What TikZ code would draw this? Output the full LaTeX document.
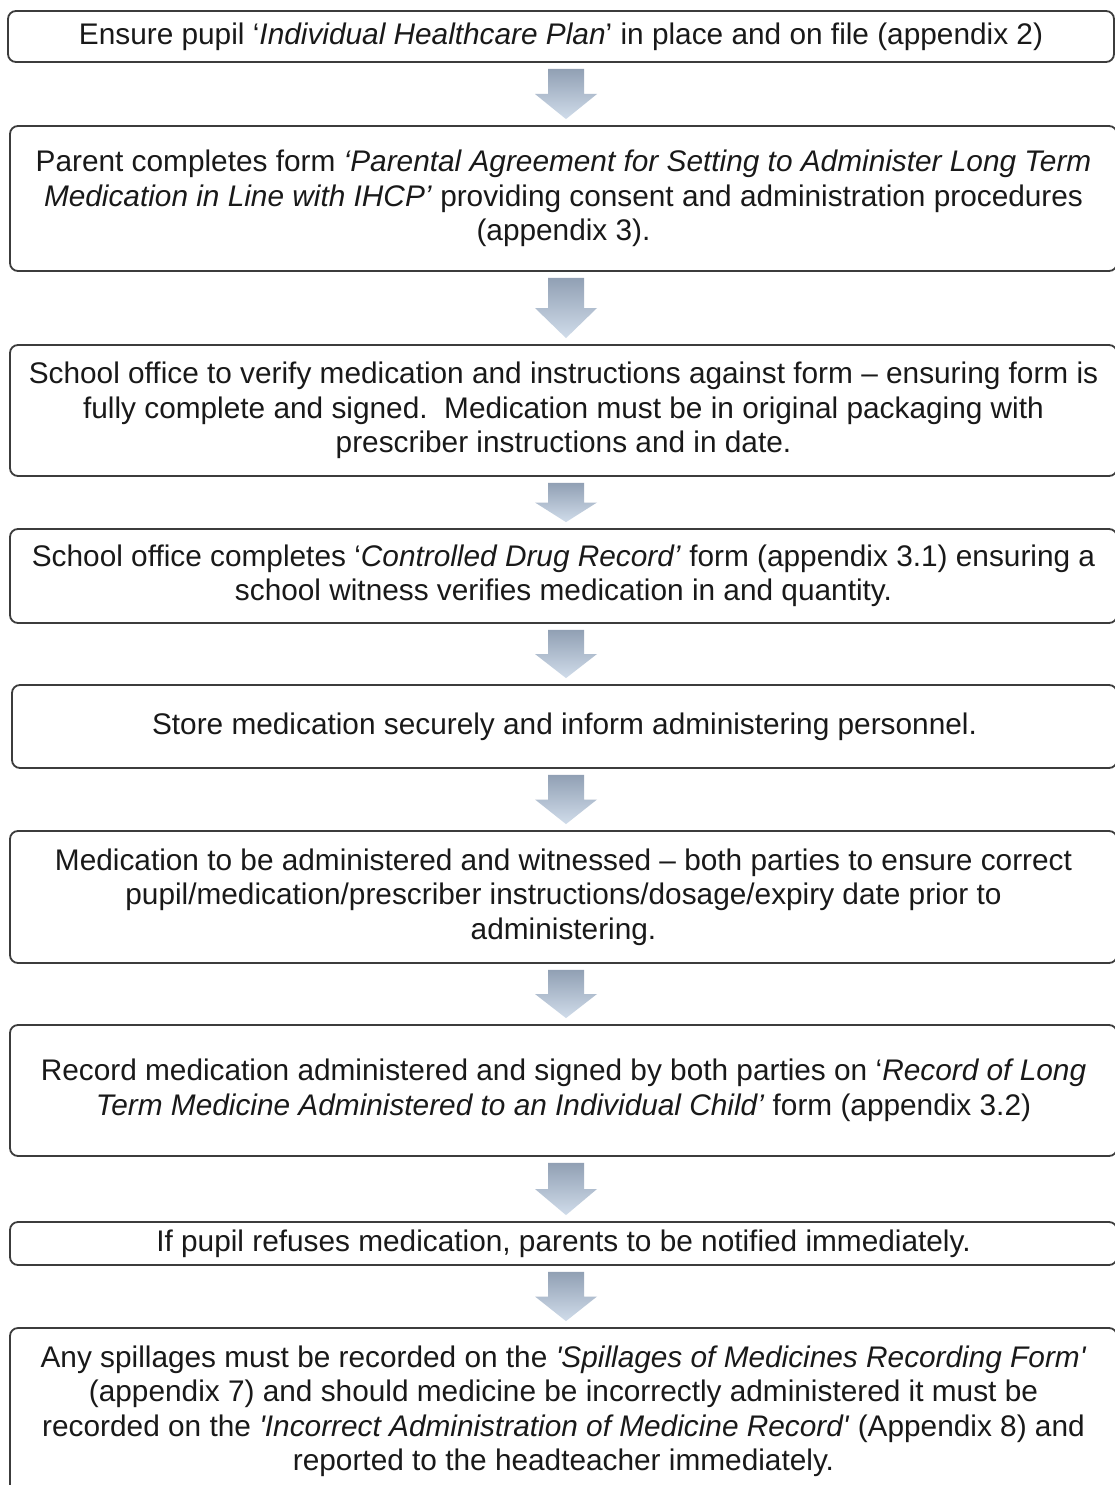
\documentclass[tikz,border=0pt]{standalone}
\usepackage{fontspec}
\setmainfont{Liberation Sans}
\usetikzlibrary{calc}
\definecolor{boxline}{RGB}{60,60,60}
\definecolor{arrtop}{RGB}{145,160,180}
\definecolor{arrbot}{RGB}{208,220,234}
\tikzset{
  flowbox/.style={draw=boxline, line width=1.8pt, rounded corners=8pt, fill=white,
    align=center, inner sep=0pt, font=\fontsize{29.8}{34.5}\selectfont, text=black!90},
  arrowfill/.style={top color=arrtop, bottom color=arrbot, draw=none},
}
\newcommand\flowarrow[2]{%
  \path[arrowfill] let \p1=(#1.south), \p2=(#2.north),
    \n1={\y1-6pt}, \n2={\y2+6pt}, \n3={(\y1+\y2)/2} in
    (548pt,\n1) -- (584pt,\n1) -- (584pt,\n3) -- (597pt,\n3) -- (566pt,\n2)
    -- (535pt,\n3) -- (548pt,\n3) -- cycle;
}
\begin{document}
\begin{tikzpicture}[x=1pt,y=-1pt]
\useasboundingbox (0,0) rectangle (1115,1485);
\fill[white] (0,0) rectangle (1115,1485);

\node[flowbox, minimum width=1106pt, minimum height=51pt] (b1) at (561,36.5)
  {Ensure pupil ‘\textit{Individual Healthcare Plan}’ in place and on file (appendix 2)};
\node[flowbox, minimum width=1107pt, minimum height=145pt] (b2) at (563.5,198.5)
  {Parent completes form \textit{‘Parental Agreement for Setting to Administer Long Term}\\
   \textit{Medication in Line with IHCP’} providing consent and administration procedures\\
   (appendix 3).};
\node[flowbox, minimum width=1107pt, minimum height=131pt] (b3) at (563.5,410.5)
  {School office to verify medication and instructions against form – ensuring form is\\
   fully complete and signed.\ \ Medication must be in original packaging with\\
   prescriber instructions and in date.};
\node[flowbox, minimum width=1107pt, minimum height=94pt] (b4) at (563.5,576)
  {School office completes ‘\textit{Controlled Drug Record’} form (appendix 3.1) ensuring a\\
   school witness verifies medication in and quantity.};
\node[flowbox, minimum width=1105pt, minimum height=83pt] (b5) at (564.5,726.5)
  {Store medication securely and inform administering personnel.};
\node[flowbox, minimum width=1107pt, minimum height=132pt] (b6) at (563.5,897)
  {Medication to be administered and witnessed – both parties to ensure correct\\
   pupil/medication/prescriber instructions/dosage/expiry date prior to\\
   administering.};
\node[flowbox, minimum width=1107pt, minimum height=131pt] (b7) at (563.5,1090.5)
  {Record medication administered and signed by both parties on ‘\textit{Record of Long}\\
   \textit{Term Medicine Administered to an Individual Child’} form (appendix 3.2)};
\node[flowbox, minimum width=1107pt, minimum height=43pt] (b8) at (563.5,1243.5)
  {If pupil refuses medication, parents to be notified immediately.};
\node[flowbox, minimum width=1107pt, minimum height=167pt] (b9) at (563.5,1411.5)
  {Any spillages must be recorded on the \textit{\textquotesingle Spillages of Medicines Recording Form\textquotesingle}\\
   (appendix 7) and should medicine be incorrectly administered it must be\\
   recorded on the \textit{\textquotesingle Incorrect Administration of Medicine Record\textquotesingle} (Appendix 8) and\\
   reported to the headteacher immediately.};

\flowarrow{b1}{b2}
\flowarrow{b2}{b3}
\flowarrow{b3}{b4}
\flowarrow{b4}{b5}
\flowarrow{b5}{b6}
\flowarrow{b6}{b7}
\flowarrow{b7}{b8}
\flowarrow{b8}{b9}
\end{tikzpicture}
\end{document}
